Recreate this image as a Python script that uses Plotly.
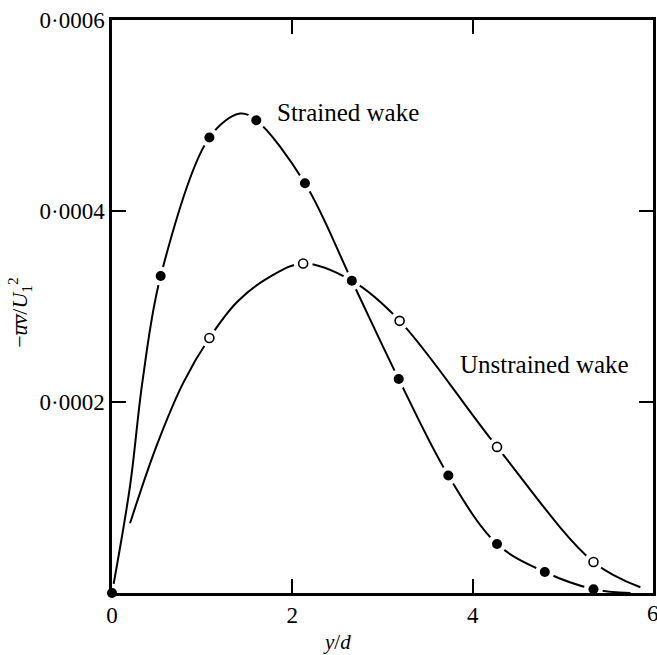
import plotly.graph_objects as go

# Measured points (filled circles: strained wake; open circles: unstrained wake)
strained_x = [0.0, 0.54, 1.08, 1.60, 2.14, 2.66, 3.18, 3.73, 4.27, 4.80, 5.34]
strained_y = [0.0, 0.000332, 0.000477, 0.000495, 0.000429, 0.000327, 0.000224,
              0.000123, 0.0000513, 0.000022, 0.000004]

unstrained_x = [1.08, 2.12, 3.19, 4.27, 5.34]
unstrained_y = [0.000267, 0.000345, 0.000285, 0.000153, 0.0000325]

# Faired curves (knots along each drawn line)
strained_curve_x = [0.0, 0.2, 0.34, 0.54, 1.08, 1.42, 1.60, 2.14, 2.66, 3.18, 3.73,
                    4.27, 4.80, 5.34, 5.75]
strained_curve_y = [0.0, 0.000112, 0.000223, 0.000332, 0.000477, 0.000502, 0.000495,
                    0.000429, 0.000327, 0.000224, 0.000123, 0.0000513, 0.000022,
                    0.000004, 0.0]

unstrained_curve_x = [0.2, 0.49, 0.79, 1.08, 1.39, 1.75, 2.12, 2.66, 3.19, 4.27,
                      5.34, 5.86]
unstrained_curve_y = [0.000073, 0.000153, 0.000220, 0.000267, 0.000305, 0.000331,
                      0.000345, 0.000327, 0.000285, 0.000153, 0.0000325, 0.000006]

x_tickvals = [0, 2, 4, 6]
x_ticktext = ["0", "2", "4", "6"]
y_tickvals = [0.0002, 0.0004, 0.0006]
y_ticktext = ["0·0002", "0·0004", "0·0006"]

labels = ["Strained wake", "Unstrained wake"]
label_x = [1.81, 3.84]
label_y = [0.000503, 0.000239]

FONT = "Liberation Serif, Times New Roman, serif"

fig = go.Figure()
fig.add_trace(go.Scatter(x=strained_curve_x, y=strained_curve_y, mode="lines",
                         line=dict(color="black", width=2, shape="spline", smoothing=1.0),
                         hoverinfo="skip"))
fig.add_trace(go.Scatter(x=unstrained_curve_x, y=unstrained_curve_y, mode="lines",
                         line=dict(color="black", width=2, shape="spline", smoothing=1.0),
                         hoverinfo="skip"))
# white halos creating gaps in the curves around the points
fig.add_trace(go.Scatter(x=strained_x + unstrained_x, y=strained_y + unstrained_y,
                         mode="markers", cliponaxis=False,
                         marker=dict(size=19, color="white", line=dict(width=0))))
fig.add_trace(go.Scatter(x=strained_x, y=strained_y, mode="markers", cliponaxis=False,
                         marker=dict(size=10, color="black", line=dict(width=0))))
fig.add_trace(go.Scatter(x=unstrained_x, y=unstrained_y, mode="markers", cliponaxis=False,
                         marker=dict(size=9, color="white",
                                     line=dict(color="black", width=1.6))))

for t, lx, ly in zip(labels, label_x, label_y):
    fig.add_annotation(x=lx, y=ly, text=t, showarrow=False, xanchor="left",
                       yanchor="middle", font=dict(family=FONT, size=25, color="black"))

# last x tick label sits on the page edge (partly cut in the original)
fig.add_annotation(x=x_tickvals[-1], y=-0.035, yref="paper", text=x_ticktext[-1],
                   showarrow=False, xanchor="center", yanchor="middle",
                   font=dict(family=FONT, size=23, color="black"))

fig.add_annotation(xref="paper", yref="paper", x=0.416, y=-0.086, text="<i>y</i>/<i>d</i>",
                   showarrow=False, xanchor="center", yanchor="middle",
                   font=dict(family=FONT, size=21, color="black"))
fig.add_annotation(xref="paper", yref="paper", x=-0.17, y=0.489, textangle=-90,
                   text="−<i>u\u0305v\u0305</i>/<i>U</i><sub>1</sub><sup>2</sup>",
                   showarrow=False, xanchor="center", yanchor="middle",
                   font=dict(family=FONT, size=22, color="black"))

axis_common = dict(showgrid=False, zeroline=False, showline=True, linecolor="black",
                   linewidth=2.5, mirror="ticks", ticks="inside", ticklen=14,
                   tickwidth=2, tickcolor="black", automargin=False,
                   tickfont=dict(family=FONT, size=23, color="black"))
fig.update_xaxes(range=[0, 6], tickvals=x_tickvals, ticktext=x_ticktext, **axis_common)
fig.update_yaxes(range=[0, 0.0006], tickvals=y_tickvals, ticktext=y_ticktext, **axis_common)

fig.update_layout(width=657, height=655, showlegend=False,
                  margin=dict(l=112, r=4, t=20, b=62),
                  plot_bgcolor="white", paper_bgcolor="white")

fig.write_html("out.html")
